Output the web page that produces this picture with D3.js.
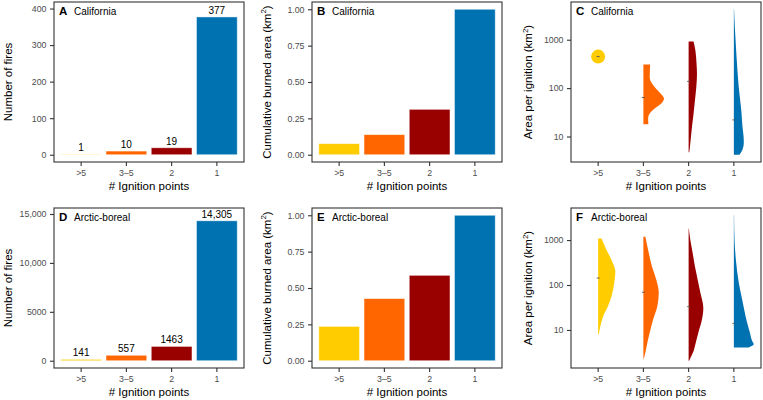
<!DOCTYPE html>
<html>
<head>
<meta charset="utf-8">
<script src="https://cdn.jsdelivr.net/npm/d3@7"></script>
<style>
  html, body { margin: 0; padding: 0; background: #fff; }
  svg { display: block; font-family: "Liberation Sans", Arial, Helvetica, sans-serif; }
</style>
</head>
<body>
<svg id="chart" width="763" height="400"></svg>
<script>
// ---------------- DATA ----------------
const categories = [">5", "3–5", "2", "1"];
const categoryColors = ["#FFCC00", "#FF6600", "#990000", "#0072B2"];

const regionNames = ["California", "Arctic-boreal"];

// Number of fires
const caFireCounts = [1, 10, 19, 377];
const abFireCounts = [141, 557, 1463, 14305];
const caCountMax = 398;     // axis upper limit (data + label room)
const abCountMax = 14870;

// Cumulative burned area (fraction)
const caCumArea = [0.076, 0.138, 0.312, 1.0];
const abCumArea = [0.236, 0.427, 0.587, 1.0];

// Tick values
const countTicksCA = [0, 100, 200, 300, 400];
const countTicksAB = [0, 5000, 10000, 15000];
const fracTicks = [0, 0.25, 0.5, 0.75, 1.0];
const logTicks = [10, 100, 1000];

// Area per ignition distributions: [area km², relative density]
const caDistGt5 = [[448, 0]];   // single observation
const caDist35 = [[308, 0.30], [166, 0.28], [105, 0.50], [77, 0.76], [61, 0.91], [48, 0.79], [38, 0.50], [30, 0.28], [24, 0.21], [18, 0.22]];
const caDist2 = [[923, 0.22], [596, 0.30], [318, 0.35], [198, 0.37], [105, 0.34], [56, 0.28], [30, 0.22], [16, 0.15], [8.5, 0.09], [4.7, 0.03]];
const caDist1 = [[4260, 0.01], [2450, 0.03], [1000, 0.075], [434, 0.12], [169, 0.18], [100, 0.22], [56, 0.28], [30, 0.34], [16, 0.38], [10, 0.43], [7.3, 0.44], [5.3, 0.38], [4.2, 0.25]];
const caMedians = [448, 64, 138, 22];

const abDistGt5 = [[1088, 0.15], [601, 0.37], [362, 0.59], [200, 0.76], [111, 0.71], [56, 0.59], [34, 0.44], [20, 0.22], [12.2, 0.10], [8.0, 0.03]];
const abDist35 = [[1185, 0.09], [601, 0.21], [258, 0.38], [131, 0.57], [67, 0.68], [34, 0.62], [17, 0.43], [8.7, 0.28], [5.3, 0.18], [3.2, 0.09], [2.3, 0.02]];
const abDist2 = [[1808, 0.01], [1000, 0.075], [508, 0.18], [258, 0.28], [131, 0.40], [67, 0.52], [31, 0.65], [17, 0.59], [8.7, 0.43], [5.3, 0.32], [3.4, 0.22], [2.5, 0.10], [2.07, 0.03]];
const abDist1 = [[3556, 0.01], [1000, 0.03], [362, 0.09], [111, 0.22], [47, 0.37], [20, 0.52], [8.7, 0.71], [5.7, 0.81], [4.8, 0.88], [4.1, 0.66]];
const abMedians = [143, 69, 33, 14];

// ---------------- LAYOUT ----------------
const svg = d3.select("#chart");
const colLeft = [54, 312, 571];
const rowTop = [2, 208];
const PW = 190, PH = 160;
const tickCol = "#4D4D4D", frameCol = "#333333";
const tickFont = 8.8, titleFont = 11.5;

const fmtCount = v => v >= 10000 ? d3.format(",")(v) : String(v);

function xScale(L) {
  return d3.scaleBand().domain(categories).range([L, L + PW]).paddingInner(0.1).paddingOuter(0.15);
}

function drawFrame(g, L, T) {
  g.append("rect").attr("x", L).attr("y", T).attr("width", PW).attr("height", PH)
    .attr("fill", "none").attr("stroke", frameCol).attr("stroke-width", 1.1);
}

function drawAxes(g, x, y, L, T, ticks, fmt) {
  const ay = g.append("g").attr("transform", `translate(${L},0)`)
    .call(d3.axisLeft(y).tickValues(ticks).tickFormat(fmt).tickSize(4).tickPadding(3.5));
  const ax = g.append("g").attr("transform", `translate(0,${T + PH})`)
    .call(d3.axisBottom(x).tickSize(4).tickPadding(3.5));
  [ay, ax].forEach(a => {
    a.select(".domain").remove();
    a.selectAll(".tick line").attr("stroke", frameCol).attr("stroke-width", 1.1);
    a.selectAll(".tick text").attr("fill", tickCol).attr("font-size", tickFont)
      .attr("font-family", '"Liberation Sans", Arial, sans-serif');
  });
  g.append("text").attr("x", L + PW / 2).attr("y", T + PH + 27.5)
    .attr("text-anchor", "middle").attr("font-size", titleFont).attr("fill", "#000")
    .text("# Ignition points");
}

function yTitle(g, xb, T, parts) {
  const t = g.append("text").attr("transform", `translate(${xb},${T + PH / 2}) rotate(-90)`)
    .attr("text-anchor", "middle").attr("font-size", titleFont).attr("fill", "#000");
  parts.forEach(p => {
    const s = t.append("tspan").text(p.t);
    if (p.sup) s.attr("font-size", 8).attr("dy", -4.5);
    if (p.down) s.attr("dy", 4.5);
  });
}

function panelLabel(g, L, T, letter, name) {
  g.append("text").attr("x", L + 5).attr("y", T + 12.5).attr("font-size", 11.5)
    .attr("font-weight", "bold").attr("fill", "#000").text(letter);
  g.append("text").attr("x", L + 20).attr("y", T + 12.5).attr("font-size", 10)
    .attr("fill", "#000").text(name);
}

function barPanel(L, T, values, yMax, ticks, fmt, showLabels, letter, name, titleParts, titleX) {
  const g = svg.append("g");
  const x = xScale(L);
  const y = d3.scaleLinear().domain([-0.05 * yMax, 1.05 * yMax]).range([T + PH, T]);
  g.selectAll("rect.bar").data(values).enter().append("rect").attr("class", "bar")
    .attr("x", (d, i) => x(categories[i]))
    .attr("width", x.bandwidth())
    .attr("y", d => y(d))
    .attr("height", d => y(0) - y(d))
    .attr("fill", (d, i) => categoryColors[i])
    .attr("stroke", "rgba(255,255,255,0.55)").attr("stroke-width", 0.8);
  if (showLabels) {
    g.selectAll("text.lab").data(values).enter().append("text").attr("class", "lab")
      .attr("x", (d, i) => x(categories[i]) + x.bandwidth() / 2)
      .attr("y", d => y(d) - 3)
      .attr("text-anchor", "middle").attr("font-size", 10).attr("fill", "#000")
      .text(d => fmtCount(d));
  }
  drawFrame(g, L, T);
  drawAxes(g, x, y, L, T, ticks, fmt);
  panelLabel(g, L, T, letter, name);
  yTitle(g, titleX, T, titleParts);
}

function violinPanel(L, T, dists, medians, letter, name) {
  const g = svg.append("g");
  const x = xScale(L);
  const all = dists.flat().map(d => Math.log10(d[0]));
  const lo = d3.min(all), hi = d3.max(all), pad = (hi - lo) * 0.05;
  const y = d3.scaleLog().domain([Math.pow(10, lo - pad), Math.pow(10, hi + pad)]).range([T + PH, T]);
  const w = d3.scaleLinear().domain([0, 1]).range([0, x.step() / 2]);
  dists.forEach((dist, i) => {
    const cx = x(categories[i]) + x.bandwidth() / 2;
    if (dist.length === 1) {
      g.append("circle").attr("cx", cx).attr("cy", y(dist[0][0])).attr("r", 7)
        .attr("fill", categoryColors[i]);
    } else {
      const area = d3.area().curve(d3.curveMonotoneY)
        .y(d => y(d[0])).x0(cx).x1(d => cx + w(d[1]));
      g.append("path").datum(dist).attr("d", area).attr("fill", categoryColors[i]);
    }
    g.append("line").attr("x1", cx - 1.5).attr("x2", cx + 1.5)
      .attr("y1", y(medians[i])).attr("y2", y(medians[i]))
      .attr("stroke", "#555").attr("stroke-width", 0.9);
  });
  drawFrame(g, L, T);
  drawAxes(g, x, y, L, T, logTicks, d3.format("d"));
  panelLabel(g, L, T, letter, name);
  yTitle(g, 532, T, [{ t: "Area per ignition (km" }, { t: "2", sup: true }, { t: ")", down: true }]);
}

const areaTitle = [{ t: "Cumulative burned area (km" }, { t: "2", sup: true }, { t: ")", down: true }];

// Row 1: California
barPanel(colLeft[0], rowTop[0], caFireCounts, caCountMax, countTicksCA, fmtCount, true, "A", regionNames[0], [{ t: "Number of fires" }], 12);
barPanel(colLeft[1], rowTop[0], caCumArea, 1, fracTicks, d3.format(".2f"), false, "B", regionNames[0], areaTitle, 270.5);
violinPanel(colLeft[2], rowTop[0], [caDistGt5, caDist35, caDist2, caDist1], caMedians, "C", regionNames[0]);

// Row 2: Arctic-boreal
barPanel(colLeft[0], rowTop[1], abFireCounts, abCountMax, countTicksAB, fmtCount, true, "D", regionNames[1], [{ t: "Number of fires" }], 12);
barPanel(colLeft[1], rowTop[1], abCumArea, 1, fracTicks, d3.format(".2f"), false, "E", regionNames[1], areaTitle, 270.5);
violinPanel(colLeft[2], rowTop[1], [abDistGt5, abDist35, abDist2, abDist1], abMedians, "F", regionNames[1]);
</script>
</body>
</html>
